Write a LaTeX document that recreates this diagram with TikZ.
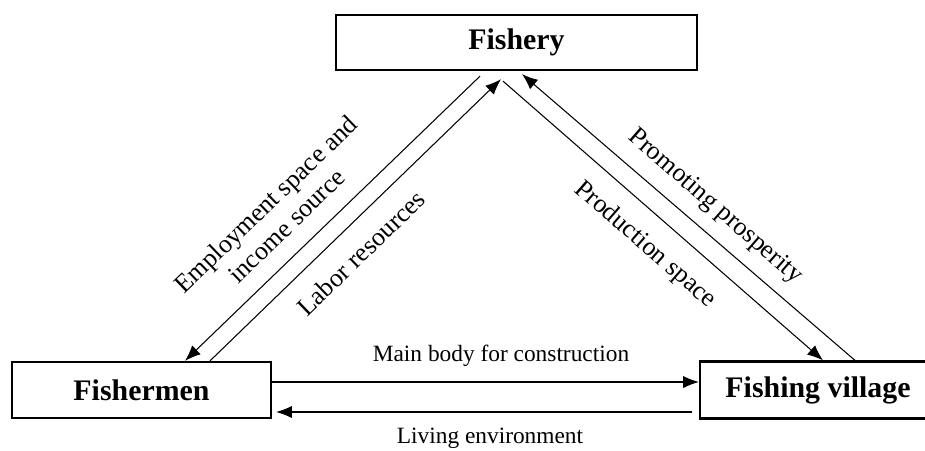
\documentclass[tikz,border=0pt]{standalone}
\usepackage{fontspec}
\setmainfont{Liberation Serif}
\usetikzlibrary{arrows.meta}
\newcommand{\boxfont}{\fontsize{17}{20}\selectfont\bfseries}
\newcommand{\slantfont}{\fontsize{14.8}{17}\selectfont}
\newcommand{\flatfont}{\fontsize{13.3}{15}\selectfont}

\begin{document}
\begin{tikzpicture}[x=0.02cm,y=-0.02cm,
  block/.style={draw,line width=1.3pt,inner sep=0pt,font=\boxfont},
  flow/.style={-{Latex[length=9pt,width=7pt]},line width=0.6pt}]

 \useasboundingbox (0,0) rectangle (925,450);
 \node[block,minimum width=7.22cm,minimum height=1.1cm] (fishery) at (516.5,42.5) {Fishery};
 \node[block,minimum width=5.18cm,minimum height=1.12cm] (fishermen) at (141.5,390) {Fishermen};
 \node[block,minimum width=4.72cm,minimum height=1.14cm] (village) at (818,390) {Fishing village};

 \draw[flow] ([xshift=-0.73cm,yshift=-0.1cm]fishery.south) -- ([xshift=0.87cm]fishermen.north);
 \draw[flow] ([xshift=1.37cm]fishermen.north) -- ([xshift=-0.31cm,yshift=-0.16cm]fishery.south);
 \draw[flow] ([xshift=-0.27cm,yshift=-0.2cm]fishery.south) -- ([xshift=0.1cm]village.north);
 \draw[flow] ([xshift=0.74cm]village.north) -- ([xshift=0.11cm,yshift=-0.06cm]fishery.south);
 \draw[flow] ([yshift=0.16cm]fishermen.east) -- ([yshift=0.16cm]village.west);
 \draw[flow] ([xshift=-0.14cm,yshift=-0.44cm]village.west) -- ([xshift=0.08cm,yshift=-0.44cm]fishermen.east);

 \node[font=\flatfont] (main) at (501,356) {Main body for construction};
 \node[font=\flatfont] (living) at (490,438) {Living environment};
 \node[font=\slantfont,rotate=44,align=center] (employ) at (276,215) {Employment space and\\income source};
 \node[font=\slantfont,rotate=44] (labor) at (361,253) {Labor resources};
 \node[font=\slantfont,rotate=-41] (production) at (645,245) {Production space};
 \node[font=\slantfont,rotate=-41] (promoting) at (715,207) {Promoting prosperity};

\end{tikzpicture}
\end{document}
